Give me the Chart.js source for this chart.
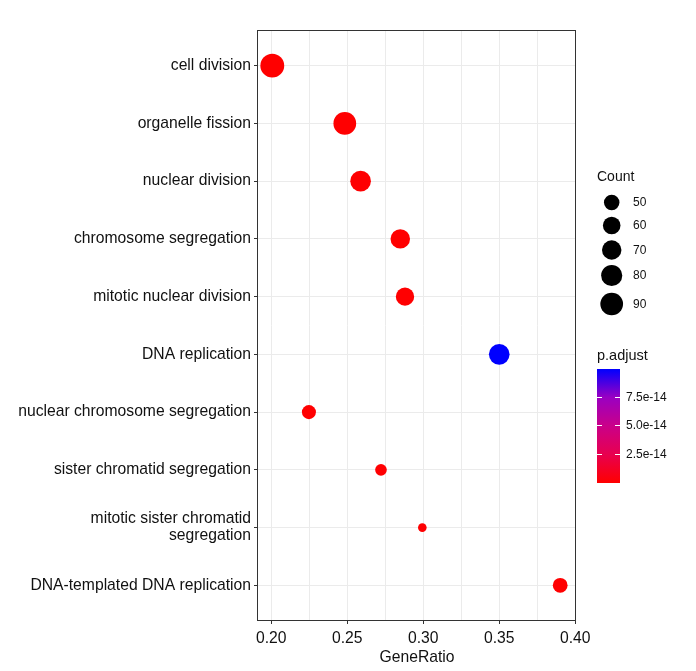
<!DOCTYPE html>
<html>
<head>
<meta charset="utf-8">
<script src="https://cdn.jsdelivr.net/npm/chart.js@4/dist/chart.umd.min.js"></script>
<style>
  html, body { margin: 0; padding: 0; background: #fff; }
  #wrap { width: 696px; height: 671px; }
</style>
</head>
<body>
<div id="wrap"><canvas id="dotplot" width="696" height="671"></canvas></div>
<script>
// data
const terms = [
  'cell division',
  'organelle fission',
  'nuclear division',
  'chromosome segregation',
  'mitotic nuclear division',
  'DNA replication',
  'nuclear chromosome segregation',
  'sister chromatid segregation',
  'mitotic sister chromatid\nsegregation',
  'DNA-templated DNA replication'
];
const geneRatio = [0.2007, 0.2484, 0.2588, 0.2849, 0.2880, 0.3500, 0.2248, 0.2722, 0.2994, 0.3901];
const counts = [98, 90, 77, 70, 64, 77, 44, 35, 26, 47];
const pAdjust = [2e-16, 5e-16, 8e-16, 1e-16, 3e-16, 9.9e-14, 4e-16, 6e-16, 7e-16, 3e-16];
const xMajor = [0.20, 0.25, 0.30, 0.35, 0.40];
const xMinor = [0.225, 0.275, 0.325, 0.375];
const countBreaks = [50, 60, 70, 80, 90];
const pBreaks = [2.5e-14, 5.0e-14, 7.5e-14];
const pBreakLabels = ['2.5e-14', '5.0e-14', '7.5e-14'];

const FONT = "'Liberation Sans', Arial, sans-serif";
const TXT = '#111';
// red -> blue, roughly as ggplot interpolates it
const gradStops = [[255, 0, 0], [232, 0, 79], [202, 0, 137], [154, 0, 194], [0, 0, 255]];

const pMin = Math.min(...pAdjust);
const pMax = Math.max(...pAdjust);

function mixColor(t) {
  t = Math.max(0, Math.min(1, t));
  const seg = t * (gradStops.length - 1);
  const i = Math.min(Math.floor(seg), gradStops.length - 2);
  const f = seg - i;
  const a = gradStops[i], b = gradStops[i + 1];
  const c = a.map((v, k) => Math.round(v + (b[k] - v) * f));
  return `rgb(${c[0]},${c[1]},${c[2]})`;
}
function pColor(p) { return mixColor((p - pMin) / (pMax - pMin)); }
function radius(c) { return Math.sqrt(240 + 6.9 * (c - 50)) / 2; }
function isMajor(v) { return xMajor.some(m => Math.abs(m - v) < 1e-6); }

// legends + panel border
const sideLegend = {
  id: 'sideLegend',
  afterDraw(chart) {
    const ctx = chart.ctx;
    const a = chart.chartArea;
    ctx.save();
    ctx.strokeStyle = '#333';
    ctx.lineWidth = 1;
    ctx.strokeRect(a.left - 0.5, a.top - 0.5, a.right - a.left, a.bottom - a.top + 1);

    // Count
    ctx.fillStyle = TXT;
    ctx.textBaseline = 'middle';
    ctx.textAlign = 'left';
    ctx.font = `14px ${FONT}`;
    ctx.fillText('Count', 597, 177);
    const cy = [202.5, 225.5, 250, 275.5, 304];
    ctx.font = `12px ${FONT}`;
    countBreaks.forEach((c, i) => {
      ctx.fillStyle = '#000';
      ctx.beginPath();
      ctx.arc(611.7, cy[i], radius(c), 0, Math.PI * 2);
      ctx.fill();
      ctx.fillStyle = TXT;
      ctx.fillText(String(c), 633, cy[i] + 0.5);
    });

    // p.adjust colour bar
    ctx.font = `14.5px ${FONT}`;
    ctx.fillText('p.adjust', 597, 356);
    const bx = 597, bw = 23, top = 369, bot = 483;
    const g = ctx.createLinearGradient(0, bot, 0, top);
    gradStops.forEach((s, i) => g.addColorStop(i / (gradStops.length - 1), `rgb(${s[0]},${s[1]},${s[2]})`));
    ctx.fillStyle = g;
    ctx.fillRect(bx, top, bw, bot - top);
    ctx.font = `12px ${FONT}`;
    pBreaks.forEach((p, i) => {
      const y = Math.round(bot - (p - pMin) / (pMax - pMin) * (bot - top)) + 0.5;
      ctx.strokeStyle = '#fff';
      ctx.beginPath();
      ctx.moveTo(bx, y); ctx.lineTo(bx + 5, y);
      ctx.moveTo(bx + bw - 5, y); ctx.lineTo(bx + bw, y);
      ctx.stroke();
      ctx.fillStyle = TXT;
      ctx.fillText(pBreakLabels[i], 626, y);
    });
    ctx.restore();
  }
};

const points = terms.map((t, i) => ({ x: geneRatio[i], y: i + 1, r: radius(counts[i]) }));

new Chart(document.getElementById('dotplot').getContext('2d'), {
  type: 'bubble',
  data: {
    datasets: [{
      data: points,
      backgroundColor: pAdjust.map(pColor),
      borderWidth: 0,
      hoverBorderWidth: 0
    }]
  },
  options: {
    responsive: false,
    animation: false,
    devicePixelRatio: 1,
    layout: { padding: { top: 31, right: 120, left: 0, bottom: 0 } },
    plugins: { legend: { display: false }, tooltip: { enabled: false } },
    scales: {
      x: {
        type: 'linear',
        min: 0.1913,
        max: 0.4005,
        afterBuildTicks: s => {
          s.ticks = xMajor.concat(xMinor).sort((a, b) => a - b).map(v => ({ value: v }));
        },
        afterFit: s => { s.height = 51; },
        ticks: {
          callback: v => isMajor(v) ? v.toFixed(2) : '',
          font: { family: FONT, size: 15.7 },
          color: TXT,
          padding: 5,
          maxRotation: 0,
          autoSkip: false
        },
        grid: {
          color: '#ebebeb',
          lineWidth: 1,
          tickLength: 4,
          tickColor: c => isMajor(c.tick.value) ? '#333' : 'rgba(0,0,0,0)'
        },
        border: { display: false },
        title: {
          display: true,
          text: 'GeneRatio',
          font: { family: FONT, size: 15.7 },
          color: TXT,
          padding: { top: 0, bottom: 4 }
        }
      },
      y: {
        type: 'linear',
        min: 0.4,
        max: 10.6,
        reverse: true,
        afterBuildTicks: s => { s.ticks = terms.map((t, i) => ({ value: i + 1 })); },
        afterFit: s => { s.width = 258; },
        ticks: {
          callback: v => terms[Math.round(v) - 1].split('\n'),
          font: { family: FONT, size: 15.7, lineHeight: 1.08 },
          color: TXT,
          padding: 3,
          autoSkip: false
        },
        grid: { color: '#ebebeb', lineWidth: 1, tickLength: 4, tickColor: '#333' },
        border: { display: false }
      }
    }
  },
  plugins: [sideLegend]
});
</script>
</body>
</html>
